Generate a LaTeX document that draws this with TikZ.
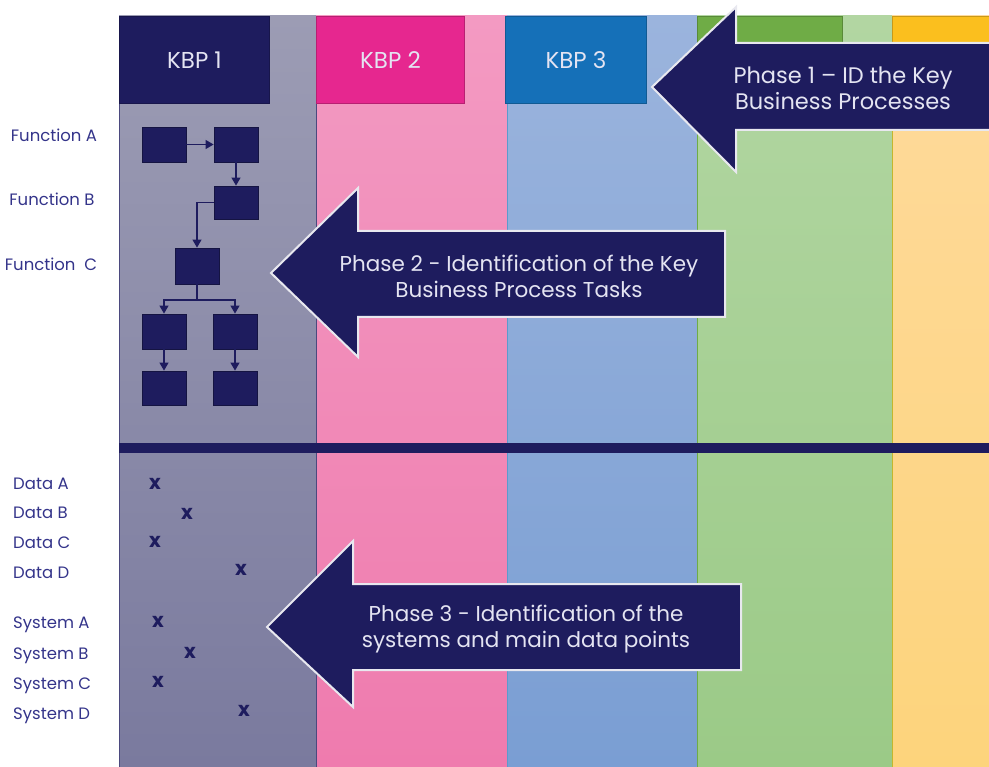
\documentclass[tikz,border=0pt]{standalone}
\usepackage{fontspec}
\setmainfont{Poppins}
\usetikzlibrary{arrows.meta}
\definecolor{navy}{HTML}{1E1C5E}
\definecolor{lbl}{HTML}{34348A}
\definecolor{txtw}{HTML}{E4E4F2}
\definecolor{cgrayT}{HTML}{9C9CB4}
\definecolor{cgrayB}{HTML}{7A7A9E}
\definecolor{cpinkT}{HTML}{F39AC2}
\definecolor{cpinkB}{HTML}{EF7BAE}
\definecolor{cblueT}{HTML}{9BB4DD}
\definecolor{cblueB}{HTML}{7A9ED3}
\definecolor{cgreenT}{HTML}{B2D6A2}
\definecolor{cgreenB}{HTML}{9BCA87}
\definecolor{cyelT}{HTML}{FEDA9C}
\definecolor{cyelB}{HTML}{FDD47C}
\definecolor{hpink}{HTML}{E6278F}
\definecolor{hblue}{HTML}{1570B8}
\definecolor{hgreen}{HTML}{6FAC46}
\definecolor{hyel}{HTML}{FBBF1E}
\begin{document}
\begin{tikzpicture}[x=1pt,y=-1pt,
  hdr/.style={draw=#1!80!black, fill=#1, line width=1pt, minimum width=150pt, minimum height=87pt, inner sep=0pt, text=txtw, font=\fontsize{23}{26}\selectfont},
  lab/.style={text=lbl, font=\fontsize{16.5}{18}\selectfont, inner sep=0pt},
  fbox/.style={fill=navy, draw=navy!70!black, line width=0.8pt, minimum width=44pt, minimum height=35pt, inner sep=0pt},
  flow/.style={draw=navy, line width=1.2pt, -{Triangle[length=8pt,width=9pt]}},
  xmark/.style={text=navy, font=\bfseries\fontsize{20}{20}\selectfont, inner sep=0pt},
  bigarrow/.style={fill=navy, draw=white!90!navy, line width=2pt, line join=miter},
  atext/.style={text=txtw, font=\fontsize{21.5}{26}\selectfont, align=center, inner sep=0pt}
]
\useasboundingbox (0,0) rectangle (989,767);
% columns
\shade[top color=cgrayT, bottom color=cgrayB] (119,16) rectangle (316,767);
\shade[top color=cpinkT, bottom color=cpinkB] (316,16) rectangle (507,767);
\shade[top color=cblueT, bottom color=cblueB] (507,16) rectangle (697,767);
\shade[top color=cgreenT, bottom color=cgreenB] (697,16) rectangle (892,767);
\shade[top color=cyelT, bottom color=cyelB] (892,16) rectangle (995,767);
\draw[navy!80, line width=1pt] (119.5,16) -- (119.5,767) (316,16) -- (316,767);
\draw[hblue!70, line width=0.8pt] (507,16) -- (507,767);
\draw[hgreen, line width=1pt] (697,16) -- (697,767);
\draw[hyel!60!hgreen, line width=1pt] (892,16) -- (892,767);
% headers
\node[hdr=navy, anchor=north west] (k1) at (119,16) {KBP 1};
\node[hdr=hpink, anchor=north west, minimum width=148pt] (k2) at (316,16) {KBP 2};
\node[hdr=hblue, anchor=north west, minimum width=141pt] (k3) at (505,16) {KBP 3};
\node[hdr=hgreen, anchor=north west, minimum width=145pt] (k4) at (697,16) {};
\node[hdr=hyel, anchor=north west, minimum width=100pt] (k5) at (892,16) {};
% separator
\draw[navy, line width=10pt] (119,448) -- (995,448);
% left labels
\node[lab] (fa) at (54,135) {Function A};
\node[lab] (fb) at (52,199) {Function B};
\node[lab] (fc) at (51,264) {Function\ \ C};
\node[lab, anchor=west] (da) at (13,484) {Data A};
\node[lab, anchor=west] (db) at (13,513) {Data B};
\node[lab, anchor=west] (dc) at (13,543) {Data C};
\node[lab, anchor=west] (dd) at (13,573) {Data D};
\node[lab, anchor=west] (sa) at (13,625) {System A};
\node[lab, anchor=west] (sb) at (13,656) {System B};
\node[lab, anchor=west] (sc) at (13,686) {System C};
\node[lab, anchor=west] (sd) at (13,716) {System D};
% flowchart
\node[fbox] (b1) at (164,144.5) {};
\node[fbox] (b2) at (236,144.5) {};
\node[fbox, minimum height=33pt] (b3) at (236,202.5) {};
\node[fbox, minimum height=36pt] (b4) at (197,266) {};
\node[fbox] (b5) at (164,331.5) {};
\node[fbox] (b6) at (235,331.5) {};
\node[fbox, minimum height=34pt] (b7) at (164,388) {};
\node[fbox, minimum height=34pt] (b8) at (235,388) {};
\coordinate (split) at (197,300);
\draw[flow] (b1) -- (b2);
\draw[flow] (b2) -- (b3);
\draw[flow] (b3.west) -| (b4.north);
\draw[draw=navy, line width=1.2pt] (b4.south) -- (split);
\draw[flow] (split) -| (b5.north);
\draw[flow] (split) -| (b6.north);
\draw[flow] (b5) -- (b7);
\draw[flow] (b6) -- (b8);
% x marks
\node[xmark] (xa) at (155,484) {x};
\node[xmark] (xb) at (187,514) {x};
\node[xmark] (xc) at (155,542) {x};
\node[xmark] (xd) at (241,570) {x};
\node[xmark] (xe) at (158,622) {x};
\node[xmark] (xf) at (190,653) {x};
\node[xmark] (xg) at (158,682) {x};
\node[xmark] (xh) at (244,711) {x};
% big arrows
\draw[bigarrow] (652,87) -- (736,7) -- (736,43) -- (1000,43) -- (1000,130) -- (736,130) -- (736,172) -- cycle;
\node[atext, font=\fontsize{22.5}{26}\selectfont] (p1) at (843,88) {Phase 1 -- ID the Key\\Business Processes};
\draw[bigarrow] (271,273) -- (358,188) -- (358,231) -- (725,231) -- (725,317) -- (358,317) -- (358,357) -- cycle;
\node[atext] (p2) at (519,276) {Phase 2 - Identification of the Key\\Business Process Tasks};
\draw[bigarrow] (267,627) -- (353,541) -- (353,584) -- (741,584) -- (741,670) -- (353,670) -- (353,707) -- cycle;
\node[atext] (p3) at (526,629) {Phase 3 - Identification of the\\systems and main data points};
\end{tikzpicture}
\end{document}
